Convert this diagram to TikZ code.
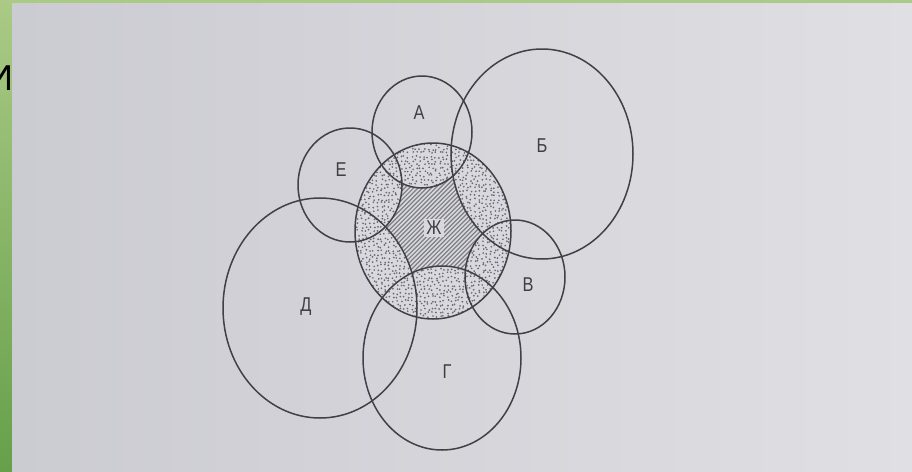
\documentclass[tikz,border=0pt]{standalone}
\usepackage{fontspec}
\usepackage{graphicx}
\setmainfont{Liberation Sans}
\usetikzlibrary{shapes.geometric}
\definecolor{gtop}{HTML}{AACA86}
\definecolor{gbot}{HTML}{66A04A}
\definecolor{pgl}{HTML}{CBCBD2}
\definecolor{pgr}{HTML}{E0DFE3}
\definecolor{pgm}{HTML}{D8D8DE}
\definecolor{ink}{HTML}{404046}
\definecolor{lab}{HTML}{404044}
\definecolor{hatchc}{HTML}{7E7E86}
\definecolor{dotc}{HTML}{68686F}
\newcommand\sx[1]{\scalebox{0.82}[1]{#1}}
\begin{document}
\begin{tikzpicture}[x=1pt,y=-1pt,
  ring/.style={ellipse, draw=ink, line width=1.5pt, inner sep=0pt, outer sep=0pt},
  lbl/.style={text=lab, font=\fontsize{20}{20}\selectfont, inner sep=0pt},
  hatchline/.style={draw=hatchc, line width=1.2pt}]
\useasboundingbox (0,0) rectangle (912,471);
% slide background
\shade[top color=gtop, bottom color=gbot] (0,0) rectangle (912,471);
\node[anchor=base west, font=\fontsize{36}{36}\selectfont, inner sep=0pt, text=black] (tI) at (-13,90) {И};
% page
\shade[left color=pgl, right color=pgr] (12,3) rectangle (912,471);
% hatched core of Ж
\begin{scope}
  \clip (433,231) ellipse [x radius=78, y radius=88];
  \fill[pgm] (350,140) rectangle (520,325);
  \foreach \s in {-124,-119.6,...,124}
    \draw[hatchline] (433+\s-110,341) -- (433+\s+110,121);
\end{scope}
% stippled parts of Ж
\begin{scope}
  \clip (433,231) ellipse [x radius=78, y radius=88];
  \clip (422,132) ellipse [x radius=50, y radius=56]
        (542,154) ellipse [x radius=91, y radius=105]
        (350,185) ellipse [x radius=52, y radius=57]
        (515,277) ellipse [x radius=50, y radius=57]
        (320,308) ellipse [x radius=97, y radius=110]
        (442,358) ellipse [x radius=79, y radius=92];
  \fill[pgm] (350,140) rectangle (520,325);
  \pgfmathsetseed{7}
  \foreach \i in {0,...,41} {
    \foreach \j in {0,...,46} {
      \pgfmathsetmacro\xx{354+3.9*\i+1.4*rand}
      \pgfmathsetmacro\yy{141+3.9*\j+1.4*rand}
      \fill[dotc] (\xx,\yy) circle [radius=0.95];
    }
  }
\end{scope}
% circles
\node[ring, minimum width=100, minimum height=112] (cA) at (422,132) {};
\node[ring, minimum width=182, minimum height=210] (cB) at (542,154) {};
\node[ring, minimum width=104, minimum height=114] (cE) at (350,185) {};
\node[ring, minimum width=156, minimum height=176] (cZh) at (433,231) {};
\node[ring, minimum width=100, minimum height=114] (cV) at (515,277) {};
\node[ring, minimum width=194, minimum height=220] (cD) at (320,308) {};
\node[ring, minimum width=158, minimum height=184] (cG) at (442,358) {};
% labels
\node[lbl] (lA) at (419,113) {\sx{А}};
\node[lbl] (lB) at (542,146) {\sx{Б}};
\node[lbl] (lE) at (341,170) {\sx{Е}};
\node[lbl, fill=pgm, inner sep=2pt] (lZh) at (434,228) {\sx{Ж}};
\node[lbl] (lV) at (528,285) {\sx{В}};
\node[lbl] (lD) at (306,307) {\sx{Д}};
\node[lbl] (lG) at (447,372) {\sx{Г}};
\end{tikzpicture}
\end{document}
